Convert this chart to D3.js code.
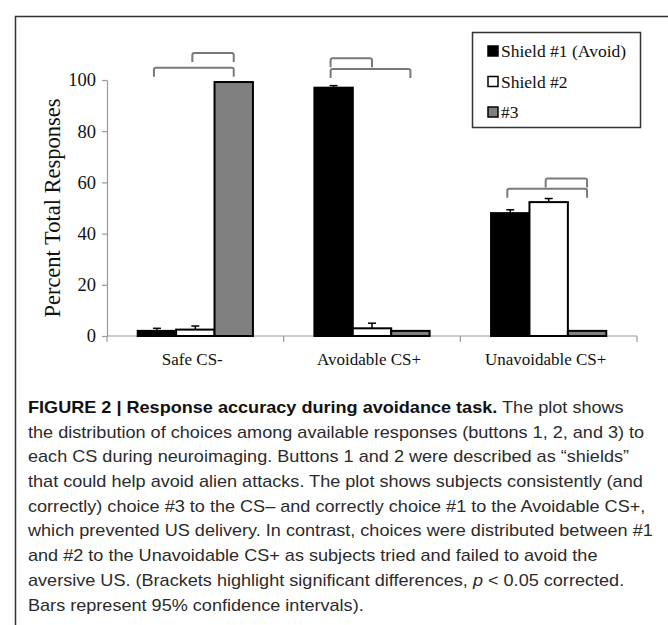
<!DOCTYPE html>
<html>
<head>
<meta charset="utf-8">
<script src="https://cdn.jsdelivr.net/npm/d3@7"></script>
<style>
  body { margin: 0; background: #fff; }
  svg { display: block; }
</style>
</head>
<body>
<div id="chart"></div>
<script>
const categories = ['Safe CS-', 'Avoidable CS+', 'Unavoidable CS+'];
const seriesNames = ['Shield #1 (Avoid)', 'Shield #2', '#3'];
const shield1 = [2, 97, 48];
const shield2 = [2.5, 3, 52.3];
const shield3 = [99.2, 2, 2];
const err1 = [1, 0.8, 1.3];
const err2 = [1.4, 2, 1.4];
const err3 = [0, 0, 0];
const yTicks = [0, 20, 40, 60, 80, 100];
// significance brackets: category index, from series, to series, height in % units
const bracketCat = [0, 0, 1, 1, 2, 2];
const bracketFrom = [0, 1, 0, 0, 0, 1];
const bracketTo = [2, 2, 1, 2, 2, 2];
const bracketLevel = [104.8, 110.5, 108.5, 104.3, 57.5, 61.5];
const captionLines = [
  'The plot shows',
  'the distribution of choices among available responses (buttons 1, 2, and 3) to',
  'each CS during neuroimaging. Buttons 1 and 2 were described as \u201cshields\u201d',
  'that could help avoid alien attacks. The plot shows subjects consistently (and',
  'correctly) choice #3 to the CS\u2013 and correctly choice #1 to the Avoidable CS+,',
  'which prevented US delivery. In contrast, choices were distributed between #1',
  'and #2 to the Unavoidable CS+ as subjects tried and failed to avoid the',
  'aversive US. (Brackets highlight significant differences, ',
  'Bars represent 95% confidence intervals).'
];

const values = [shield1, shield2, shield3];
const errs = [err1, err2, err3];
const fills = ['#000', '#fff', '#808080'];

const width = 668, height = 625;
const svg = d3.select('#chart').append('svg')
  .attr('width', width)
  .attr('height', height);

// outer frame (left + top)
svg.append('path')
  .attr('d', `M15.5,${height} V16.5 H${width}`)
  .attr('fill', 'none')
  .attr('stroke', '#333')
  .attr('stroke-width', 1.5);

const y = d3.scaleLinear().domain([0, 100]).range([336, 80]);
const x0 = d3.scaleBand().domain(categories).range([107, 637]);
const x1 = d3.scaleBand().domain(d3.range(3)).range([0, x0.bandwidth()]).paddingOuter(0.8);

const serif = '"Liberation Serif", "Times New Roman", serif';

// y axis
const yAxis = svg.append('g')
  .attr('transform', `translate(${x0.range()[0]},0)`)
  .call(d3.axisLeft(y).tickValues(yTicks).tickSize(5).tickPadding(6).tickSizeOuter(0));
yAxis.select('.domain').attr('stroke', '#999').attr('stroke-width', 1.2);
yAxis.selectAll('.tick line').attr('stroke', '#999').attr('stroke-width', 1.2);
yAxis.selectAll('.tick text').attr('font-family', serif).attr('font-size', 18.5).attr('fill', '#111');

// x axis
const xAxis = svg.append('g').attr('transform', `translate(0,${y(0)})`);
xAxis.append('line')
  .attr('x1', x0.range()[0]).attr('x2', x0.range()[1])
  .attr('stroke', '#999').attr('stroke-width', 1.2);
xAxis.selectAll('.xtick')
  .data(categories.map(c => x0(c)).concat([x0.range()[1]]))
  .join('line')
  .attr('x1', d => d).attr('x2', d => d)
  .attr('y1', 0).attr('y2', 6)
  .attr('stroke', '#999').attr('stroke-width', 1.2);
xAxis.selectAll('.xlab')
  .data(categories)
  .join('text')
  .attr('x', d => x0(d) + x0.bandwidth() / 2 - 3)
  .attr('y', 29)
  .attr('text-anchor', 'middle')
  .attr('font-family', serif)
  .attr('font-size', 17)
  .attr('fill', '#111')
  .text(d => d);

// y title
svg.append('text')
  .attr('transform', `translate(60,${(y(0) + y(100)) / 2}) rotate(-90)`)
  .attr('text-anchor', 'middle')
  .attr('font-family', serif)
  .attr('font-size', 22.5)
  .attr('fill', '#111')
  .text('Percent Total Responses');

// bars
const bars = [];
categories.forEach((c, ci) => {
  seriesNames.forEach((s, si) => {
    bars.push({ c, ci, si, v: values[si][ci], e: errs[si][ci] });
  });
});

svg.append('g').selectAll('rect')
  .data(bars)
  .join('rect')
  .attr('x', d => x0(d.c) + x1(d.si))
  .attr('y', d => y(d.v))
  .attr('width', x1.bandwidth())
  .attr('height', d => y(0) - y(d.v))
  .attr('fill', d => fills[d.si])
  .attr('stroke', '#000')
  .attr('stroke-width', 2);

// error bars (upper whisker only)
const eb = svg.append('g').attr('stroke', '#000').attr('stroke-width', 1.5);
bars.filter(d => d.e > 0).forEach(d => {
  const cx = x0(d.c) + x1(d.si) + x1.bandwidth() / 2;
  eb.append('line').attr('x1', cx).attr('x2', cx).attr('y1', y(d.v)).attr('y2', y(d.v + d.e));
  eb.append('line').attr('x1', cx - 4).attr('x2', cx + 4).attr('y1', y(d.v + d.e)).attr('y2', y(d.v + d.e));
});

// brackets
const bg = svg.append('g').attr('fill', 'none').attr('stroke', '#7a7a7a').attr('stroke-width', 2);
bracketCat.forEach((ci, i) => {
  const c = categories[ci];
  const xa = x0(c) + x1(bracketFrom[i]) + x1.bandwidth() / 2 - 3;
  const xb = x0(c) + x1(bracketTo[i]) + x1.bandwidth() / 2;
  const yt = y(bracketLevel[i]);
  bg.append('path')
    .attr('d', `M${xa},${yt + 9} V${yt + 2} Q${xa},${yt} ${xa + 2},${yt} H${xb - 2} Q${xb},${yt} ${xb},${yt + 2} V${yt + 9}`);
});

// legend
const lg = svg.append('g');
lg.append('rect')
  .attr('x', 472.5).attr('y', 32.5).attr('width', 168).attr('height', 95)
  .attr('fill', '#fff').attr('stroke', '#333').attr('stroke-width', 1.5);
seriesNames.forEach((s, i) => {
  const ly = 51 + i * 30.5;
  lg.append('rect')
    .attr('x', 488).attr('y', ly - 5).attr('width', 10).attr('height', 10)
    .attr('fill', fills[i]).attr('stroke', '#000').attr('stroke-width', 1.5);
  lg.append('text')
    .attr('x', 501).attr('y', ly + 6)
    .attr('font-family', serif).attr('font-size', 17.5).attr('fill', '#111')
    .text(s);
});

// caption
const sans = '"Liberation Sans", Arial, sans-serif';
const cap = svg.append('g').attr('font-family', sans).attr('font-size', 17).attr('fill', '#2b2b2b');
const capX = 28, capY = 413, lineH = 24.7;
const capTexts = [];
captionLines.forEach((l, i) => {
  const t = cap.append('text').attr('x', capX).attr('y', capY + i * lineH);
  if (i === 0) {
    t.append('tspan').attr('font-weight', 'bold').attr('fill', '#111').text('FIGURE 2 | Response accuracy during avoidance task.');
    t.append('tspan').text(' ' + l);
  } else if (i === 7) {
    t.append('tspan').text(l);
    t.append('tspan').attr('font-style', 'italic').text('p');
    t.append('tspan').text(' < 0.05 corrected.');
  } else {
    t.text(l);
  }
  capTexts.push(t);
});
// squeeze lines horizontally to the condensed caption face
const ref = capTexts[5].node().getComputedTextLength();
const k = (653 - capX) / ref;
capTexts.forEach(t => t.attr('transform', `translate(${capX},0) scale(${k},1) translate(${-capX},0)`));
</script>
</body>
</html>
